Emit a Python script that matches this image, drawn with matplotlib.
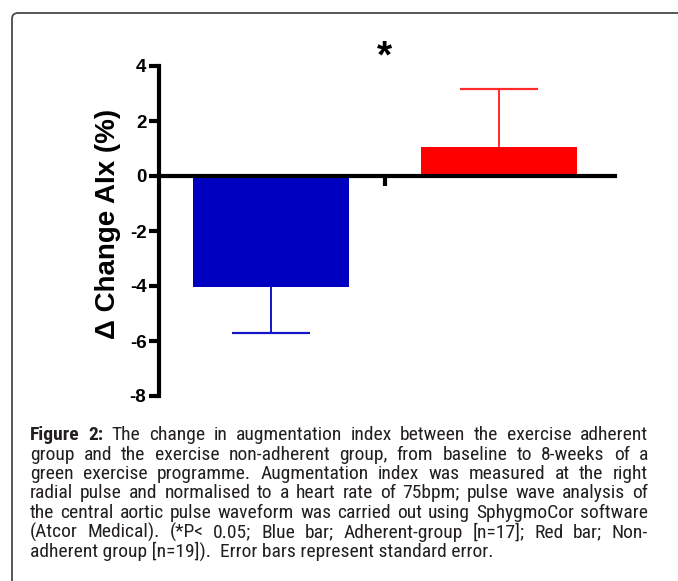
"""
Change in augmentation index (AIx) from baseline to 8 weeks,
exercise adherent vs non-adherent group, with figure caption.
"""

import matplotlib.pyplot as plt
from matplotlib import font_manager
from matplotlib.font_manager import FontProperties
from matplotlib.patches import FancyBboxPatch

# ============================== data =========================================

groups = ["Adherent", "Non-adherent"]
change_aix = [-4.05, 1.05]
sem_aix = [1.67, 2.12]
bar_colors = ["#0000C0", "#FF0000"]
err_colors = ["#1414C8", "#FF2A2A"]
y_ticks = [-8, -6, -4, -2, 0, 2, 4]
y_label = "\u0394 Change AIx (%)"

caption_lines = [
    "Figure 2: The change in augmentation index between the exercise adherent",
    "group and the exercise non-adherent group, from baseline to 8-weeks of a",
    "green exercise programme.  Augmentation index was measured at the right",
    "radial pulse and normalised to a heart rate of 75bpm; pulse wave analysis of",
    "the central aortic pulse waveform was carried out using SphygmoCor software",
    "(Atcor Medical). (*P< 0.05; Blue bar; Adherent-group [n=17]; Red bar; Non-",
    "adherent group [n=19]).  Error bars represent standard error.",
]

# ============================== defines ======================================

W, H = 678, 581
AXIS_LW = 3.0


def pick_caption_fonts():
    # look for a narrow sans face, as the caption is set in a condensed font
    prefer = ["Liberation Sans Narrow", "Roboto Condensed", "Open Sans Condensed",
              "Noto Sans", "DejaVu Sans"]
    fonts = [f for f in font_manager.fontManager.ttflist
             if f.style == "normal"
             and (f.stretch in ("condensed", "semi-condensed")
                  or "Narrow" in f.name or "Condensed" in f.name)]

    def weight(f):
        w = f.weight
        if isinstance(w, str):
            w = font_manager.weight_dict.get(w, 400)
        return w

    for name in prefer:
        same = [f for f in fonts if f.name == name]
        reg = [f for f in same if weight(f) == 400]
        bold = [f for f in same if weight(f) == 700]
        if reg and bold:
            return reg[0].fname, bold[0].fname
    return None, None


REG_FILE, BOLD_FILE = pick_caption_fonts()


def caption_props(size, bold=False):
    if REG_FILE is None:
        return FontProperties(family="Liberation Sans", size=size,
                              weight="bold" if bold else "normal")
    return FontProperties(fname=BOLD_FILE if bold else REG_FILE, size=size)


def px(x, y):
    # pixel coords (from top-left) to figure fraction
    return x / W, 1 - y / H


def text_width(fig, renderer, s, prop):
    t = fig.text(0, 0, s, fontproperties=prop)
    w = t.get_window_extent(renderer).width
    t.remove()
    return w


def draw_caption(fig, x0, x1, y0, step):
    renderer = fig.canvas.get_renderer()

    # pick a size so the tightest line just fits the column
    size = 14.0
    while size > 6:
        if text_width(fig, renderer, caption_lines[4], caption_props(size)) <= (x1 - x0) * 0.99:
            break
        size -= 0.1

    for i, line in enumerate(caption_lines):
        y = y0 + i * step
        if i == len(caption_lines) - 1:
            fig.text(*px(x0, y), line, fontproperties=caption_props(size),
                     ha="left", va="baseline", color="#231f20")
            continue
        words = line.split()
        props = [caption_props(size, bold=(i == 0 and j < 2)) for j in range(len(words))]
        widths = [text_width(fig, renderer, w, p) for w, p in zip(words, props)]
        gap = (x1 - x0 - sum(widths)) / (len(words) - 1)
        x = x0
        for w, p, wd in zip(words, props, widths):
            fig.text(*px(x, y), w, fontproperties=p,
                     ha="left", va="baseline", color="#231f20")
            x += wd + gap


def main():
    plt.rcParams["font.family"] = ["Liberation Sans", "DejaVu Sans"]

    fig = plt.figure(figsize=(W / 100, H / 100), dpi=100)

    # rounded frame round the figure, running off the right and bottom edges
    frame = FancyBboxPatch((0.12, -0.5), 7.9, 6.18,
                           boxstyle="round,pad=0,rounding_size=0.06",
                           transform=fig.dpi_scale_trans,
                           facecolor="none", edgecolor="#4a4a4a", lw=1.3)
    fig.add_artist(frame)

    left, top = px(159, 66)
    _, bottom = px(159, 396)
    ax = fig.add_axes([left, bottom, (615 - 159) / W, top - bottom])

    x = list(range(len(groups)))
    ax.bar(x, change_aix, width=0.684, color=bar_colors, zorder=2)

    # one-sided error bars, pointing away from zero
    for xi, v, e, c in zip(x, change_aix, sem_aix, err_colors):
        end = v + e if v > 0 else v - e
        ax.vlines(xi, v, end, color=c, lw=1.4, zorder=3)
        ax.hlines(end, xi - 0.17, xi + 0.17, color=c, lw=1.6, zorder=3)

    ax.set_xlim(-0.491, 1.509)
    ax.set_ylim(-8, 4)

    for side in ["top", "right"]:
        ax.spines[side].set_visible(False)
    ax.spines["bottom"].set_position(("data", 0))
    ax.spines["left"].set_linewidth(AXIS_LW)
    ax.spines["bottom"].set_linewidth(AXIS_LW)

    ax.set_xticks([0.5])
    ax.set_xticklabels([])
    ax.tick_params(axis="x", direction="out", length=7, width=AXIS_LW)

    ax.set_yticks(y_ticks)
    ax.set_yticklabels([str(t) for t in y_ticks], fontweight="bold", fontsize=13.5)
    ax.tick_params(axis="y", direction="out", length=7.5, width=AXIS_LW, pad=1.5)

    ax.text(0.5, 4.3, "*", ha="center", va="center", fontsize=28,
            fontweight="bold", clip_on=False)

    fig.text(*px(108, 224), y_label, rotation=90, ha="center", va="center",
             fontsize=20, fontweight="bold")

    draw_caption(fig, 30, 648, 440, 19.5)

    plt.savefig("out.png", dpi=100)


if __name__ == '__main__':
    main()
